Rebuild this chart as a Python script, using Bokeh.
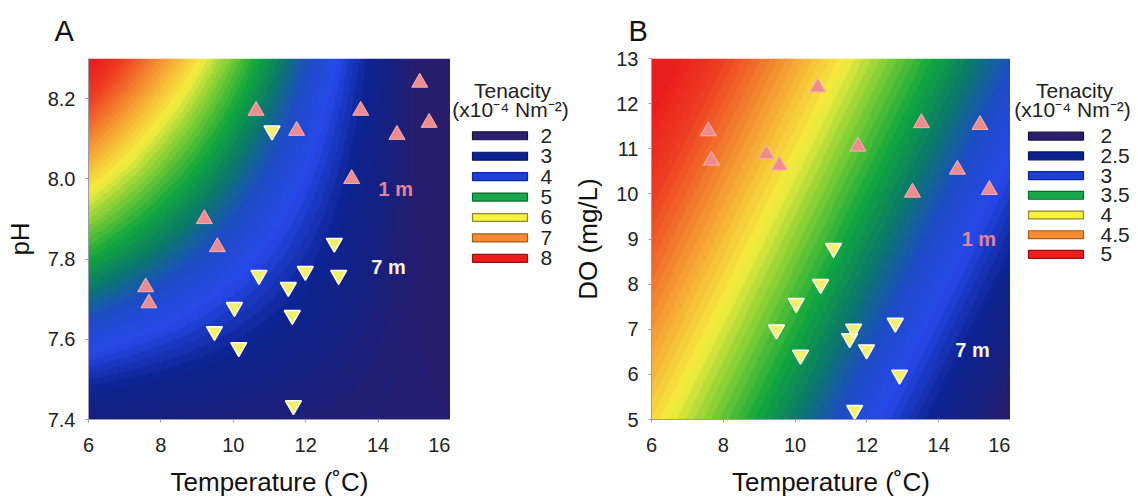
import numpy as np
from bokeh.plotting import figure
from bokeh.models import Range1d, LinearColorMapper, FixedTicker, NumeralTickFormatter
from bokeh.layouts import row
from bokeh.embed import file_html
from bokeh.resources import INLINE
from bokeh.core.properties import value

FONT = "Liberation Sans"

# ---------------- data ----------------
temp_1m = [15.15, 13.52, 15.41, 14.52, 10.63, 11.75, 13.27, 9.20, 9.56, 7.58, 7.67]
ph_1m = [8.24, 8.17, 8.14, 8.11, 8.17, 8.12, 8.00, 7.90, 7.83, 7.73, 7.69]
do_1m = [11.53, 11.57, 10.09, 10.54, 12.36, 11.05, 10.03, 10.88, 10.63, 11.39, 10.74]

temp_7m = [11.07, 12.79, 10.71, 11.99, 12.91, 11.52, 10.03, 11.63, 9.48, 10.15, 11.66]
ph_7m = [8.12, 7.84, 7.76, 7.77, 7.76, 7.73, 7.68, 7.66, 7.62, 7.58, 7.435]
do_7m = [8.80, 7.14, 8.00, 6.55, 5.99, 6.80, 7.58, 7.01, 6.99, 6.43, 5.21]

temp_ticks = [6, 8, 10, 12, 14, 16]
ph_ticks = [7.4, 7.6, 7.8, 8.0, 8.2]
do_ticks = [5, 6, 7, 8, 9, 10, 11, 12, 13]

# fitted tenacity surfaces (x10^-4 N m^-2)
# panel A: tenacity = base + k * (T_pivot - T) * (pH - pH_pivot)
surf_a_base = 2.16
surf_a_k = 0.704
surf_a_t_pivot = 14.9
surf_a_ph_pivot = 7.35
# panel B: tenacity = b0 + bT * (T - 6) + bDO * (DO - 5)
surf_b_b0 = 4.1
surf_b_bt = -0.21
surf_b_bdo = 0.13

legend_a_labels = ["2", "3", "4", "5", "6", "7", "8"]
legend_b_labels = ["2", "2.5", "3", "3.5", "4", "4.5", "5"]
legend_colors = ["#2b1f6e", "#0e2190", "#1e3fd6", "#19a84a", "#f6f23e", "#f58a30", "#ef1c1c"]
legend_edges = ["#1a1240", "#081660", "#10289a", "#0c6a2c", "#8c8a2a", "#a85a1c", "#9a1010"]

label_1m_a = (14.49, 7.974)
label_7m_a = (14.29, 7.779)
label_1m_b = (15.12, 8.99)
label_7m_b = (14.94, 6.53)

# ---------------- colour map ----------------
anchors = [(0.00, "#2a1c6a"), (0.08, "#16207f"), (0.16, "#0d2494"), (0.25, "#2648ea"),
           (0.34, "#1c4cc4"), (0.42, "#0a7a68"), (0.50, "#12a83c"), (0.58, "#78cc34"),
           (0.667, "#f4ee3e"), (0.72, "#f6c83a"), (0.78, "#f59a32"), (0.85, "#f1662a"),
           (0.91, "#ee3c22"), (1.00, "#ec1a1c")]


def hex2rgb(h):
    return [int(h[i:i + 2], 16) for i in (1, 3, 5)]


def make_palette(n):
    pos = [a[0] for a in anchors]
    cols = np.array([hex2rgb(a[1]) for a in anchors], dtype=float)
    out = []
    for i in range(n):
        t = (i + 0.5) / n
        rgb = [np.interp(t, pos, cols[:, c]) for c in range(3)]
        out.append("#%02x%02x%02x" % tuple(int(round(v)) for v in rgb))
    return out


palette = make_palette(60)


def style_axes(p):
    for ax in (p.xaxis[0], p.yaxis[0]):
        ax.axis_line_color = "#9a9ab8"
        ax.axis_line_width = 1
        ax.major_tick_line_color = "#9a9ab8"
        ax.major_tick_out = 3
        ax.major_tick_in = 0
        ax.minor_tick_line_color = None
        ax.major_label_text_font = FONT
        ax.major_label_text_font_size = "20px"
        ax.major_label_text_color = "#222222"
        ax.axis_label_text_font = FONT
        ax.axis_label_text_font_size = "26px"
        ax.axis_label_text_font_style = "normal"
        ax.axis_label_text_color = "#111111"
    p.xaxis[0].major_label_standoff = 15
    p.xaxis[0].axis_label_standoff = 12
    p.yaxis[0].major_label_standoff = 10
    p.yaxis[0].axis_label_standoff = 10
    p.grid.visible = False
    p.outline_line_color = None


def build_panel(width, left, y_lo, y_hi, y_ticks, y_fmt, y_label, z, z_hi, y1m, y7m, lab1, lab7,
                letter, letter_off):
    p = figure(width=width, height=502, x_range=Range1d(6, 16), y_range=Range1d(y_lo, y_hi),
               min_border_left=left, min_border_right=0, min_border_top=57, min_border_bottom=83,
               toolbar_location=None, output_backend="svg")
    mapper = LinearColorMapper(palette=palette, low=2, high=z_hi)
    p.image(image=[z], x=6, y=y_lo, dw=10, dh=y_hi - y_lo, color_mapper=mapper)
    p.scatter(x=temp_1m, y=y1m, marker="triangle", size=16, fill_color="#ef8a8e",
              line_color="#f6b4b4", line_width=1)
    p.scatter(x=temp_7m, y=y7m, marker="inverted_triangle", size=16, fill_color="#f3ef66",
              line_color="#ffffff", line_width=1.5)
    p.text(x=[lab1[0]], y=[lab1[1]], text=["1 m"], text_font=value(FONT), text_font_style="bold",
           text_font_size="20px", text_color="#e4849a", text_align="center", text_baseline="middle")
    p.text(x=[lab7[0]], y=[lab7[1]], text=["7 m"], text_font=value(FONT), text_font_style="bold",
           text_font_size="20px", text_color="#f4f4e6", text_align="center", text_baseline="middle")
    p.xaxis.ticker = FixedTicker(ticks=temp_ticks)
    p.yaxis.ticker = FixedTicker(ticks=y_ticks)
    p.yaxis.formatter = NumeralTickFormatter(format=y_fmt)
    p.xaxis.axis_label = "Temperature (˚C)"
    p.yaxis.axis_label = y_label
    style_axes(p)
    p.title.text = letter
    p.title.text_font = FONT
    p.title.text_font_size = "29px"
    p.title.text_font_style = "normal"
    p.title.text_color = "#111111"
    p.title.align = "left"
    p.title.offset = letter_off
    p.title.standoff = 24
    return p


# surfaces on a grid
n = 240
tg = 6 + (np.arange(n) + 0.5) * 10 / n
phg = 7.4 + (np.arange(n) + 0.5) * 0.9 / n
dog = 5 + (np.arange(n) + 0.5) * 8 / n
TT, PP = np.meshgrid(tg, phg)
zA = surf_a_base + surf_a_k * (surf_a_t_pivot - TT) * (PP - surf_a_ph_pivot)
zA = np.clip(zA, 2.0, 8.0)
TT2, DD = np.meshgrid(tg, dog)
zB = surf_b_b0 + surf_b_bt * (TT2 - 6) + surf_b_bdo * (DD - 5)
zB = np.clip(zB, 2.0, 5.0)

pA = build_panel(450, 88, 7.4, 8.3, ph_ticks, "0.0", "pH", zA, 8.0, ph_1m, ph_7m,
                 label_1m_a, label_7m_a, "A", -34)
pB = build_panel(440, 77, 5, 13, do_ticks, "0", "DO (mg/L)", zB, 5.0, do_1m, do_7m,
                 label_1m_b, label_7m_b, "B", -23)


def legend_fig(width, labels, box_cx, label_x, title_cx, y0, dy):
    f = figure(width=width, height=502, x_range=Range1d(0, width), y_range=Range1d(502, 0),
               x_axis_location=None, y_axis_location=None, min_border=0,
               toolbar_location=None, output_backend="svg")
    f.grid.visible = False
    f.outline_line_color = None
    ys = [y0 + i * dy for i in range(len(labels))]
    f.rect(x=[box_cx] * len(labels), y=ys, width=55, height=11, fill_color=legend_colors,
           line_color=legend_edges, line_width=1.2)
    f.text(x=[label_x] * len(labels), y=ys, text=labels, text_font=value(FONT),
           text_font_size="21px", text_color="#222222", text_align="left", text_baseline="middle")
    f.text(x=[title_cx], y=[45], text=["Tenacity"], text_font=value(FONT), text_font_size="21px",
           text_color="#222222", text_align="center", text_baseline="middle")
    f.text(x=[title_cx - 2], y=[71], text=["(x10\u207b\u2074 Nm\u207b\u00b2)"], text_font=value(FONT),
           text_font_size="21px", text_color="#222222", text_align="center", text_baseline="middle")
    return f


legA = legend_fig(120, legend_a_labels, 49.5, 90, 62, 107.5, 28.4)
legB = legend_fig(128, legend_b_labels, 45.5, 90, 64, 108, 27.4)

layout = row(pA, legA, pB, legB, spacing=0)
open("out.html", "w").write(file_html(layout, INLINE))
